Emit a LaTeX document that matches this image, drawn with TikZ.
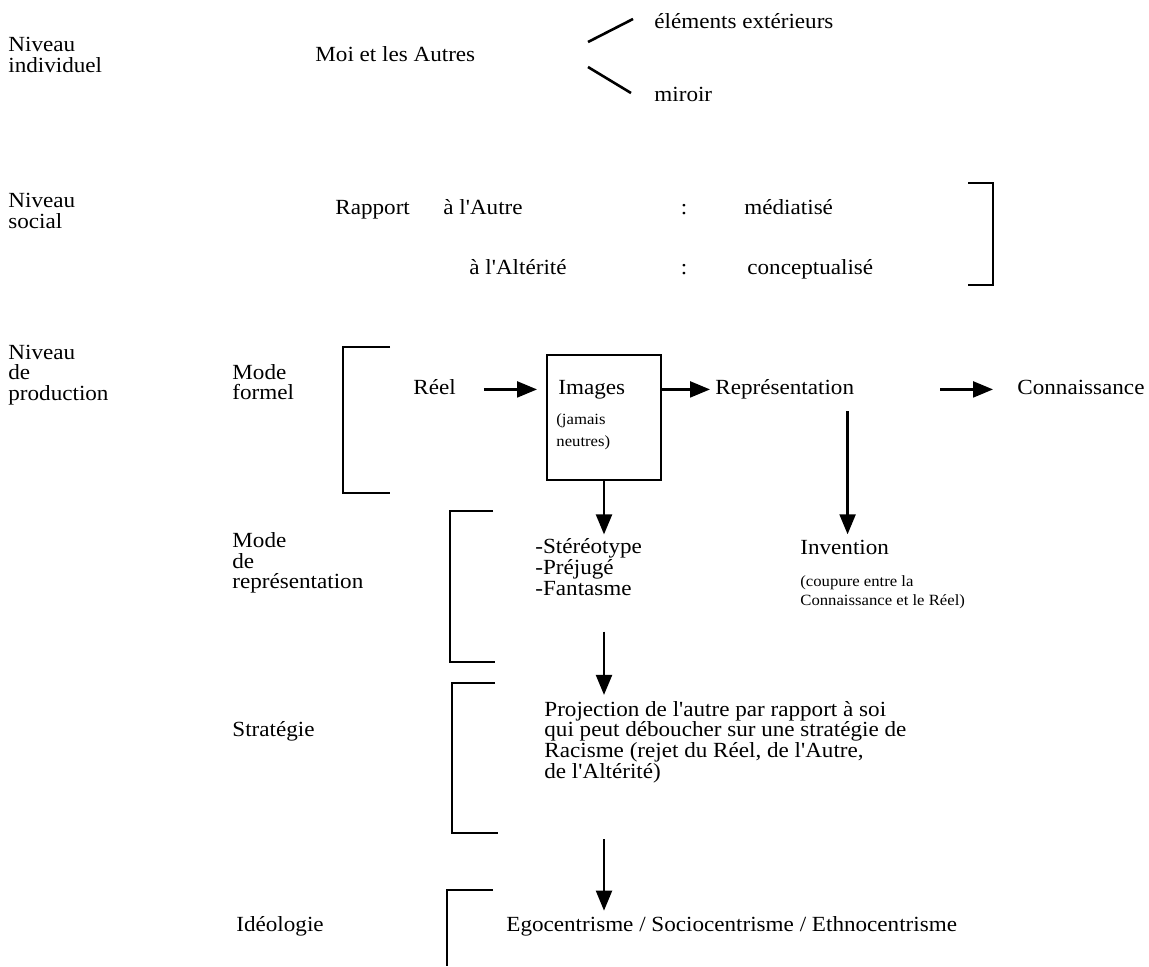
\documentclass[tikz,border=0pt]{standalone}
\usepackage{fontspec}
\setmainfont{Liberation Serif}[FakeStretch=1.07, Ligatures=TeXOff]
\usetikzlibrary{arrows.meta}
\newcommand\mainsize{\fontsize{10.8pt}{10.3pt}\selectfont\lineskiplimit=-20pt}
\newcommand\smallsize{\fontsize{7.8pt}{9.6pt}\selectfont\lineskiplimit=-20pt}

\begin{document}
\begin{tikzpicture}
  [
    x                 = 0.5pt,
    y                 = -0.5pt,
    every node/.style = {font=\mainsize, inner sep=0pt, anchor=base west, align=left},
    block/.style      = {anchor=west},
    small/.style      = {font=\smallsize},
    colon/.style      = {anchor=base},
    frame/.style      = {draw, line width=1pt, anchor=north west,
                         minimum width=57pt, minimum height=62.5pt},
    arr/.style        = {draw, line width=1.1pt, -{Triangle[length=10pt, width=8pt]}},
    brk/.style        = {draw, line width=1.3pt},
    tick/.style       = {draw, line width=1.3pt}
  ]
  \useasboundingbox (0,0) rectangle (1149,966);

  \node[block] (niv1) at (8,55) { Niveau\\individuel };
  \node (moi)  at (315,61)  { Moi et les Autres };
  \node (ext)  at (654,28)  { éléments extérieurs };
  \node (mir)  at (654,101) { miroir };
  \coordinate (up1) at (588,42);
  \coordinate (up2) at (633,19);
  \coordinate (dn1) at (588,67);
  \coordinate (dn2) at (631,93);
  \draw[tick] (up1) -- (up2);
  \draw[tick] (dn1) -- (dn2);

  \node[block] (niv2) at (8,211) { Niveau\\social };
  \node (rapp)  at (335,214) { Rapport };
  \node (autre) at (443,214) { à l'Autre };
  \node[colon] (col1) at (688,214) { : };
  \node (med)   at (744,214) { médiatisé };
  \node (alter) at (469,274) { à l'Altérité };
  \node[colon] (col2) at (688,274) { : };
  \node (conc)  at (747,274) { conceptualisé };
  \draw[brk] (968,183) -- (993,183) -- (993,285) -- (968,285);

  \node[block] (niv3) at (8,375)   { Niveau\\de\\production };
  \node[block] (mf)   at (232,382) { Mode\\formel };
  \draw[brk] (390,347) -- (343,347) -- (343,493) -- (390,493);
  \node (reel) at (413,394) { Réel };
  \node[frame] (box) at (546,354) {};
  \node (img)  at (558,394) { Images };
  \node[small, block] (jam) at (556,432) { (jamais\\[1.2pt]neutres) };
  \node (rep)  at (715,394)  { Représentation };
  \node (con)  at (1017,394) { Connaissance };
  \node (inv)  at (800,554)  { Invention };
  \node[small, block] (cou) at (800,592) { (coupure entre la\\Connaissance et le Réel) };
  \draw[arr, shorten <=11pt, shorten >=4.5pt] (reel.mid east) -- (reel.mid east -| box.west);
  \draw[arr, shorten >=2.5pt] (rep.mid west -| box.east) -- (rep.mid west);
  \draw[arr, shorten <=40pt, shorten >=12pt] (rep.mid east) -- (con.mid west);
  \draw[arr, shorten <=6pt, shorten >=2.5pt] (rep.south -| inv.north) -- (inv.north);

  \node[block] (mdr) at (232,563) { Mode\\de\\représentation };
  \draw[brk] (493,511) -- (450,511) -- (450,662) -- (495,662);
  \node[block] (list) at (535,567) { -Stéréotype\\-Préjugé\\-Fantasme };
  \draw[arr, shorten >=2pt] (box.south) -- (box.south |- list.north);

  \node (strat) at (232,736) { Stratégie };
  \draw[brk] (495,683) -- (452,683) -- (452,833) -- (498,833);
  \node[block] (proj) at (544,742) { Projection de l'autre par rapport à soi\\qui peut déboucher sur une stratégie de\\Racisme (rejet du Réel, de l'Autre,\\de l'Altérité) };
  \draw[arr, shorten <=18pt, shorten >=3pt] (box.south |- list.south) -- (box.south |- proj.north);

  \node (ideo) at (236,931) { Idéologie };
  \node (ego)  at (506,931) { Egocentrisme / Sociocentrisme / Ethnocentrisme };
  \draw[brk] (493,890) -- (447,890) -- (447,966);
  \draw[arr, shorten <=28pt, shorten >=2.5pt] (box.south |- proj.south) -- (box.south |- ego.north);
\end{tikzpicture}
\end{document}
